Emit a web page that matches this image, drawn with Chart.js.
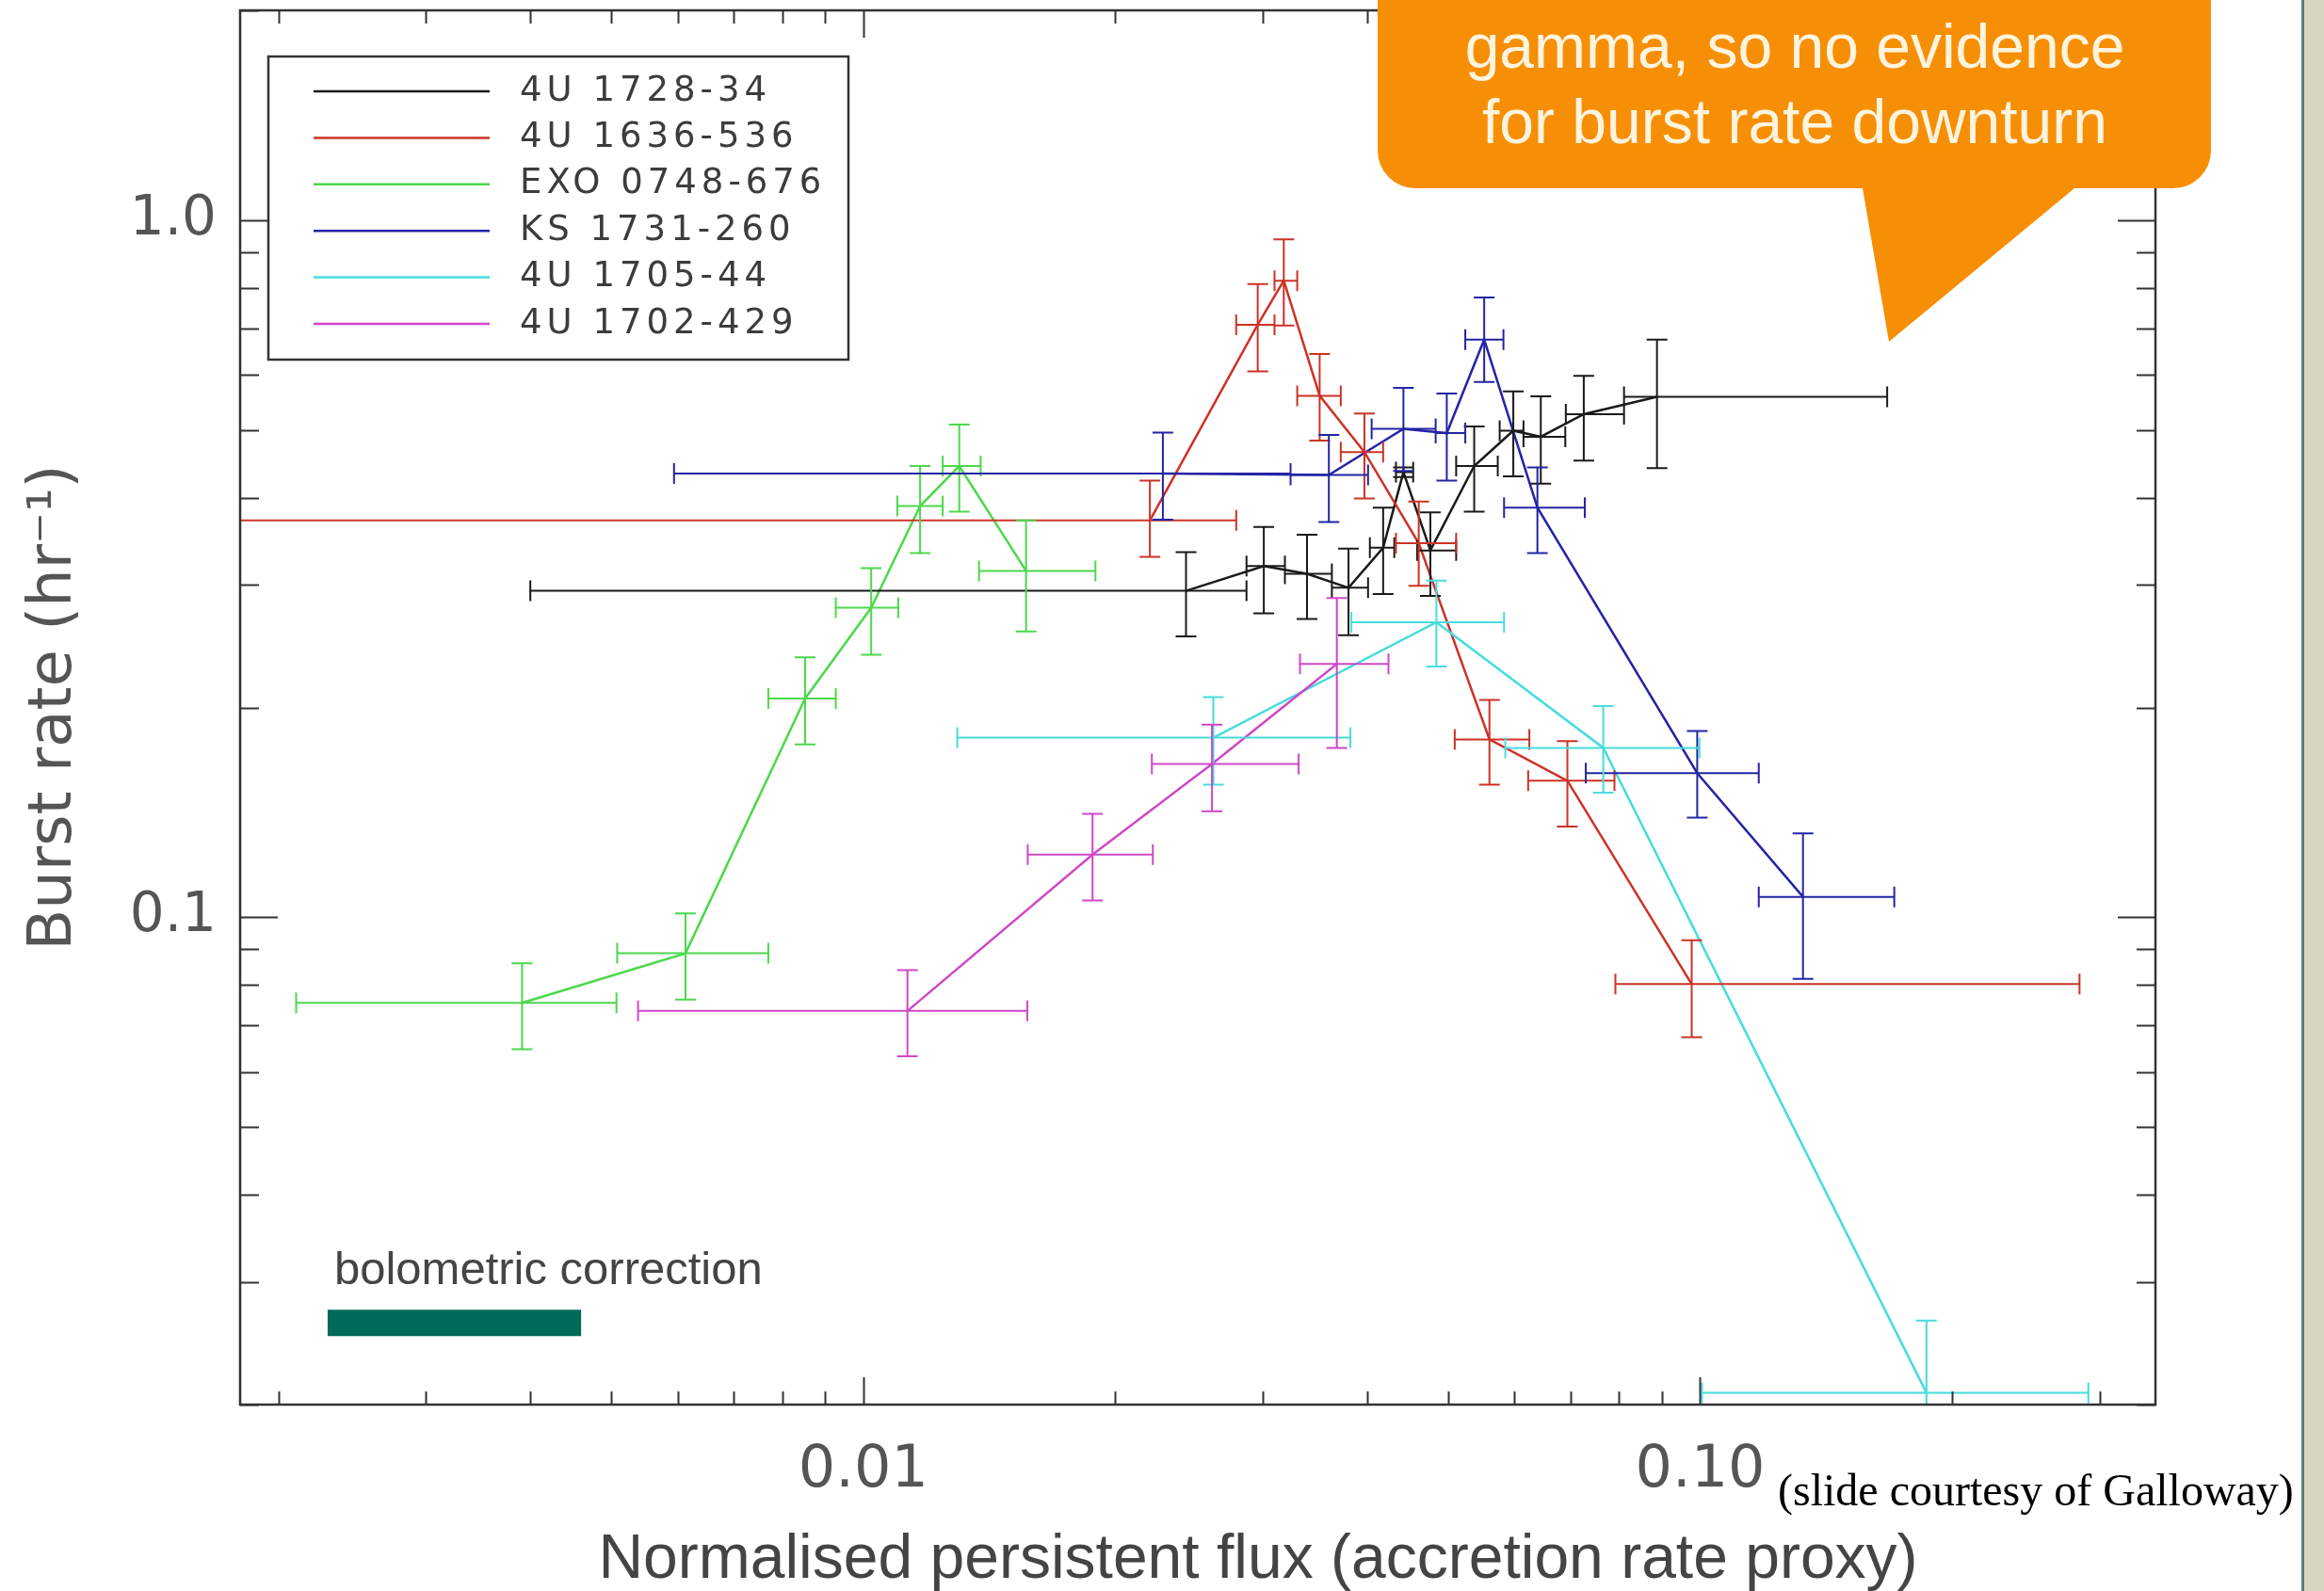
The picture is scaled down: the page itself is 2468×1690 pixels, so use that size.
<!DOCTYPE html>
<html>
<head>
<meta charset="utf-8">
<title>Burst rate vs persistent flux</title>
<script src="https://cdn.jsdelivr.net/npm/chart.js@4.4.1/dist/chart.umd.min.js"></script>
<style>
  html, body { margin: 0; padding: 0; }
  body {
    width: 2468px; height: 1690px; overflow: hidden;
    background: linear-gradient(to right, #fff 0, #fff 2444px, #5b7f7a 2444px, #5b7f7a 2447px, #d8d5c0 2447px);
  }
  canvas { display: block; }
</style>
</head>
<body>
<canvas id="burst" width="2468" height="1690"></canvas>
<script>
// 4U 1728-34
const flux1728   = [0.0243, 0.0301, 0.0339, 0.0380, 0.0418, 0.0442, 0.0476, 0.0537, 0.0598, 0.0645, 0.0726, 0.0888];
const rate1728   = [0.294, 0.319, 0.311, 0.297, 0.339, 0.435, 0.336, 0.444, 0.499, 0.489, 0.527, 0.558];
const flux1728Lo = [0.0040, 0.0287, 0.0319, 0.0363, 0.0403, 0.0433, 0.0459, 0.0511, 0.0576, 0.0615, 0.0691, 0.0811];
const flux1728Hi = [0.0287, 0.0319, 0.0363, 0.0401, 0.0431, 0.0454, 0.0511, 0.0573, 0.0615, 0.0690, 0.0811, 0.1673];
const rate1728Lo = [0.253, 0.273, 0.268, 0.254, 0.291, 0.428, 0.289, 0.382, 0.429, 0.419, 0.452, 0.441];
const rate1728Hi = [0.334, 0.363, 0.354, 0.338, 0.387, 0.442, 0.381, 0.506, 0.568, 0.559, 0.598, 0.674];

// 4U 1636-536
const flux1636   = [0.0220, 0.0296, 0.0318, 0.0351, 0.0397, 0.0461, 0.0560, 0.0694, 0.0977];
const rate1636   = [0.371, 0.708, 0.819, 0.560, 0.465, 0.344, 0.180, 0.157, 0.0802];
const flux1636Lo = [0.0015, 0.0279, 0.0310, 0.0330, 0.0372, 0.0433, 0.0509, 0.0623, 0.0792];
const flux1636Hi = [0.0279, 0.0310, 0.0330, 0.0372, 0.0418, 0.0511, 0.0625, 0.0790, 0.284];
const rate1636Lo = [0.329, 0.607, 0.706, 0.483, 0.399, 0.299, 0.155, 0.135, 0.0673];
const rate1636Hi = [0.423, 0.810, 0.939, 0.643, 0.528, 0.395, 0.205, 0.179, 0.0927];

// EXO 0748-676
const fluxExo   = [0.00391, 0.00613, 0.00852, 0.01022, 0.01169, 0.01302, 0.01565];
const rateExo   = [0.0754, 0.0888, 0.206, 0.278, 0.389, 0.444, 0.314];
const fluxExoLo = [0.00210, 0.00508, 0.00770, 0.00927, 0.01098, 0.01244, 0.01375];
const fluxExoHi = [0.00507, 0.00770, 0.00927, 0.01101, 0.01244, 0.01381, 0.01894];
const rateExoLo = [0.0647, 0.0762, 0.177, 0.238, 0.333, 0.382, 0.257];
const rateExoHi = [0.0859, 0.1013, 0.236, 0.317, 0.444, 0.509, 0.371];

// KS 1731-260
const fluxKs   = [0.0228, 0.0360, 0.0442, 0.0498, 0.0552, 0.0639, 0.0992, 0.1327];
const rateKs   = [0.433, 0.431, 0.502, 0.495, 0.674, 0.387, 0.161, 0.107];
const fluxKsLo = [0.00594, 0.0324, 0.0405, 0.0483, 0.0524, 0.0583, 0.0730, 0.1175];
const fluxKsHi = [0.0324, 0.0401, 0.0483, 0.0524, 0.0582, 0.0728, 0.1175, 0.1706];
const rateKsLo = [0.372, 0.369, 0.437, 0.423, 0.586, 0.333, 0.139, 0.0816];
const rateKsHi = [0.496, 0.492, 0.575, 0.564, 0.775, 0.442, 0.185, 0.132];

// 4U 1705-44
const flux1705   = [0.0262, 0.0484, 0.0766, 0.1864];
const rate1705   = [0.181, 0.265, 0.175, 0.0208];
const flux1705Lo = [0.01295, 0.0383, 0.0585, 0.1005];
const flux1705Hi = [0.0382, 0.0583, 0.0998, 0.291];
const rate1705Lo = [0.155, 0.229, 0.151, 0.015];
const rate1705Hi = [0.207, 0.304, 0.201, 0.0264];

// 4U 1702-429
const flux1702   = [0.01129, 0.01879, 0.0261, 0.0368];
const rate1702   = [0.0734, 0.123, 0.166, 0.231];
const flux1702Lo = [0.00538, 0.01572, 0.02212, 0.03325];
const flux1702Hi = [0.01570, 0.02218, 0.03313, 0.04242];
const rate1702Lo = [0.0632, 0.1057, 0.142, 0.175];
const rate1702Hi = [0.0840, 0.1407, 0.189, 0.287];

const sourceNames = ['4U 1728-34', '4U 1636-536', 'EXO 0748-676', 'KS 1731-260', '4U 1705-44', '4U 1702-429'];

// bolometric correction span (flux range) and the rate it sits at
const bolFlux = [0.00229, 0.00460];
const bolRate = 0.0262;

const xTickLabels = ['0.01', '0.10'];
const yTickLabels = ['0.1', '1.0'];

const seriesColors = ['#1a1a1a', '#cc3326', '#4cd84c', '#2424a4', '#48dcdc', '#cf48c6'];

const sources = [
  { flux: flux1728, rate: rate1728, fluxLo: flux1728Lo, fluxHi: flux1728Hi, rateLo: rate1728Lo, rateHi: rate1728Hi },
  { flux: flux1636, rate: rate1636, fluxLo: flux1636Lo, fluxHi: flux1636Hi, rateLo: rate1636Lo, rateHi: rate1636Hi },
  { flux: fluxExo,  rate: rateExo,  fluxLo: fluxExoLo,  fluxHi: fluxExoHi,  rateLo: rateExoLo,  rateHi: rateExoHi },
  { flux: fluxKs,   rate: rateKs,   fluxLo: fluxKsLo,   fluxHi: fluxKsHi,   rateLo: rateKsLo,   rateHi: rateKsHi },
  { flux: flux1705, rate: rate1705, fluxLo: flux1705Lo, fluxHi: flux1705Hi, rateLo: rate1705Lo, rateHi: rate1705Hi },
  { flux: flux1702, rate: rate1702, fluxLo: flux1702Lo, fluxHi: flux1702Hi, rateLo: rate1702Lo, rateHi: rate1702Hi }
];

function labelFor(list, v) {
  const hit = list.find(t => Math.abs(Number(t) / v - 1) < 1e-6);
  return hit || '';
}

// 1..9 x 10^n positions between min and max, decades flagged as major
function logTickValues(min, max) {
  const out = [];
  for (let e = Math.floor(Math.log10(min)); e <= Math.ceil(Math.log10(max)); e++) {
    for (let m = 1; m <= 9; m++) {
      const v = m * Math.pow(10, e);
      if (v >= min * 0.9999 && v <= max * 1.0001) out.push({ v: v, major: m === 1 });
    }
  }
  return out;
}

// x and y error bars with end caps
const errorBars = {
  id: 'errorBars',
  afterDatasetsDraw(chart) {
    const { ctx, chartArea: a, scales: { x, y } } = chart;
    const cap = 11;
    ctx.save();
    ctx.beginPath();
    ctx.rect(a.left, a.top, a.right - a.left, a.bottom - a.top);
    ctx.clip();
    ctx.lineWidth = 2;
    sources.forEach((s, i) => {
      ctx.strokeStyle = seriesColors[i];
      ctx.beginPath();
      s.flux.forEach((f, k) => {
        const px = x.getPixelForValue(f);
        const py = y.getPixelForValue(s.rate[k]);
        const x0 = x.getPixelForValue(s.fluxLo[k]);
        const x1 = x.getPixelForValue(s.fluxHi[k]);
        const y0 = y.getPixelForValue(s.rateLo[k]);
        const y1 = y.getPixelForValue(s.rateHi[k]);
        ctx.moveTo(x0, py); ctx.lineTo(x1, py);
        ctx.moveTo(x0, py - cap); ctx.lineTo(x0, py + cap);
        ctx.moveTo(x1, py - cap); ctx.lineTo(x1, py + cap);
        ctx.moveTo(px, y0); ctx.lineTo(px, y1);
        ctx.moveTo(px - cap, y0); ctx.lineTo(px + cap, y0);
        ctx.moveTo(px - cap, y1); ctx.lineTo(px + cap, y1);
      });
      ctx.stroke();
    });
    ctx.restore();
  }
};

// box frame with inward ticks on all four sides
const frameTicks = {
  id: 'frameTicks',
  afterDatasetsDraw(chart) {
    const { ctx, chartArea: a, scales: { x, y } } = chart;
    ctx.save();
    ctx.strokeStyle = '#333';
    ctx.lineWidth = 2.5;
    ctx.strokeRect(a.left, a.top, a.right - a.left, a.bottom - a.top);
    ctx.lineWidth = 2;
    ctx.beginPath();
    logTickValues(x.min, x.max).forEach(t => {
      const px = Math.round(x.getPixelForValue(t.v)) + 0.5;
      const len = t.major ? 29 : 14;
      ctx.moveTo(px, a.bottom); ctx.lineTo(px, a.bottom - len);
      ctx.moveTo(px, a.top); ctx.lineTo(px, a.top + len);
    });
    logTickValues(y.min, y.max).forEach(t => {
      const py = Math.round(y.getPixelForValue(t.v)) + 0.5;
      const len = t.major ? 40 : 20;
      ctx.moveTo(a.left, py); ctx.lineTo(a.left + len, py);
      ctx.moveTo(a.right, py); ctx.lineTo(a.right - len, py);
    });
    ctx.stroke();
    ctx.restore();
  }
};

// legend box, annotation, x title, callout and credit line
const slideNotes = {
  id: 'slideNotes',
  afterDraw(chart) {
    const { ctx, scales: { x, y } } = chart;
    ctx.save();

    // legend
    ctx.fillStyle = '#fff';
    ctx.fillRect(285, 60, 616, 322);
    ctx.strokeStyle = '#333';
    ctx.lineWidth = 2.5;
    ctx.strokeRect(285, 60, 616, 322);
    ctx.font = '37px "DejaVu Sans"';
    ctx.textBaseline = 'middle';
    ctx.textAlign = 'left';
    if ('letterSpacing' in ctx) ctx.letterSpacing = '5px';
    sourceNames.forEach((name, i) => {
      const ry = 97 + i * 49.4;
      ctx.strokeStyle = seriesColors[i];
      ctx.lineWidth = 2.5;
      ctx.beginPath();
      ctx.moveTo(333, ry); ctx.lineTo(520, ry);
      ctx.stroke();
      ctx.fillStyle = '#3c3c3c';
      ctx.fillText(name, 552, ry);
    });
    if ('letterSpacing' in ctx) ctx.letterSpacing = '0px';

    // bolometric correction label above its bar
    ctx.fillStyle = '#444';
    ctx.font = '49px "Liberation Sans", Arial, sans-serif';
    ctx.textBaseline = 'alphabetic';
    ctx.fillText('bolometric correction', x.getPixelForValue(bolFlux[0]) + 7, y.getPixelForValue(bolRate) - 41);

    // x axis title
    ctx.fillStyle = '#444';
    ctx.font = '66px "Liberation Sans", Arial, sans-serif';
    ctx.textAlign = 'center';
    ctx.fillText('Normalised persistent flux (accretion rate proxy)', 1336, 1676);

    // credit line
    ctx.fillStyle = '#000';
    ctx.font = '48px "Liberation Serif", "Times New Roman", serif';
    ctx.textAlign = 'left';
    ctx.fillText('(slide courtesy of Galloway)', 1888, 1599);

    // speech bubble
    const bx0 = 1463, bx1 = 2348, by0 = -60, by1 = 200, r = 40;
    ctx.fillStyle = '#f78f06';
    ctx.beginPath();
    ctx.moveTo(bx0 + r, by0);
    ctx.lineTo(bx1 - r, by0);
    ctx.arcTo(bx1, by0, bx1, by0 + r, r);
    ctx.lineTo(bx1, by1 - r);
    ctx.arcTo(bx1, by1, bx1 - r, by1, r);
    ctx.lineTo(2203, by1);
    ctx.lineTo(2006, 363);
    ctx.lineTo(1978, by1);
    ctx.lineTo(bx0 + r, by1);
    ctx.arcTo(bx0, by1, bx0, by1 - r, r);
    ctx.lineTo(bx0, by0 + r);
    ctx.arcTo(bx0, by0, bx0 + r, by0, r);
    ctx.closePath();
    ctx.fill();

    ctx.fillStyle = '#fff4de';
    ctx.font = '66px "Liberation Sans", Arial, sans-serif';
    ctx.textAlign = 'center';
    ctx.fillText('gamma, so no evidence', 1906, 72);
    ctx.fillText('for burst rate downturn', 1906, 152);

    ctx.restore();
  }
};

const datasets = sources.map((s, i) => ({
  label: sourceNames[i],
  data: s.flux.map((f, k) => ({ x: f, y: s.rate[k] })),
  showLine: true,
  borderColor: seriesColors[i],
  borderWidth: 2.5,
  pointRadius: 0,
  tension: 0,
  order: sources.length - i
}));

datasets.push({
  label: 'bolometric correction',
  data: bolFlux.map(f => ({ x: f, y: bolRate })),
  showLine: true,
  borderColor: '#006a58',
  borderWidth: 28,
  borderCapStyle: 'butt',
  pointRadius: 0,
  order: 0
});

new Chart(document.getElementById('burst'), {
  type: 'scatter',
  data: { datasets: datasets },
  options: {
    responsive: false,
    devicePixelRatio: 1,
    animation: false,
    layout: { padding: { top: 11, right: 179, left: 0, bottom: 0 } },
    plugins: {
      legend: { display: false },
      tooltip: { enabled: false }
    },
    scales: {
      x: {
        type: 'logarithmic',
        position: 'bottom',
        min: 0.0018,
        max: 0.35,
        grid: { display: false, drawTicks: false },
        border: { display: false },
        ticks: {
          autoSkip: false,
          maxRotation: 0,
          padding: 34,
          color: '#555',
          font: { family: 'DejaVu Sans', size: 62 },
          callback: v => labelFor(xTickLabels, v)
        },
        afterFit: s => {
          s.height = 198;
          s.paddingLeft = 0;
          s.paddingRight = 0;
        }
      },
      y: {
        type: 'logarithmic',
        position: 'left',
        min: 0.02,
        max: 2.0,
        grid: { display: false, drawTicks: false },
        border: { display: false },
        ticks: {
          autoSkip: false,
          padding: 25,
          color: '#555',
          font: { family: 'DejaVu Sans', size: 58 },
          callback: v => labelFor(yTickLabels, v)
        },
        title: {
          display: true,
          text: 'Burst rate (hr\u207B\u00B9)',
          color: '#555',
          font: { family: 'DejaVu Sans', size: 64 },
          padding: { top: 20, bottom: 0 }
        },
        afterFit: s => {
          s.width = 255;
          s.paddingTop = 0;
          s.paddingBottom = 0;
        }
      }
    }
  },
  plugins: [errorBars, frameTicks, slideNotes]
});
</script>
</body>
</html>
